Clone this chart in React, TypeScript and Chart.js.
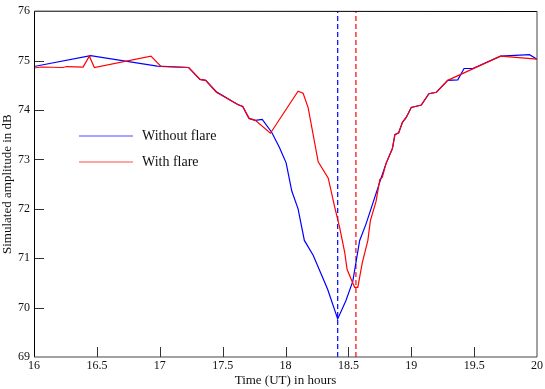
import React, { useEffect, useRef } from 'react';
import { Chart, registerables } from 'chart.js';
Chart.register(...registerables);

const FONT = '"Liberation Serif", "Times New Roman", serif';

// Time (UT, hours) and amplitude (dB) - without flare
const blueTimes = [16.0, 16.45, 16.98, 17.23, 17.32, 17.365, 17.45, 17.62, 17.66, 17.71, 17.76, 17.815, 17.89, 17.95, 18.005, 18.05, 18.10, 18.15, 18.22, 18.335, 18.415, 18.48, 18.535, 18.59, 18.64, 18.76, 18.80, 18.85, 18.87, 18.90, 18.93, 18.96, 19.00, 19.08, 19.14, 19.20, 19.29, 19.37, 19.42, 19.49, 19.71, 19.94, 20.0];
const blueValues = [74.88, 75.10, 74.89, 74.86, 74.62, 74.60, 74.37, 74.11, 74.07, 73.83, 73.79, 73.81, 73.55, 73.25, 72.93, 72.36, 72.00, 71.36, 71.06, 70.37, 69.77, 70.14, 70.53, 71.36, 71.69, 72.62, 72.92, 73.22, 73.50, 73.54, 73.75, 73.85, 74.05, 74.10, 74.33, 74.36, 74.60, 74.61, 74.84, 74.84, 75.09, 75.12, 75.03];

// with flare
const redTimes = [16.0, 16.06, 16.23, 16.26, 16.39, 16.44, 16.48, 16.93, 17.01, 17.23, 17.32, 17.365, 17.45, 17.62, 17.66, 17.71, 17.76, 17.88, 18.10, 18.14, 18.18, 18.26, 18.34, 18.39, 18.43, 18.47, 18.49, 18.535, 18.55, 18.575, 18.61, 18.655, 18.675, 18.72, 18.75, 18.77, 18.80, 18.85, 18.87, 18.90, 18.93, 18.96, 19.00, 19.08, 19.14, 19.20, 19.29, 19.71, 20.0];
const redValues = [74.85, 74.87, 74.86, 74.88, 74.87, 75.09, 74.86, 75.09, 74.88, 74.86, 74.62, 74.60, 74.36, 74.11, 74.07, 73.83, 73.79, 73.53, 74.38, 74.34, 74.05, 72.95, 72.62, 72.05, 71.63, 71.13, 70.77, 70.50, 70.41, 70.41, 70.90, 71.36, 71.76, 72.15, 72.59, 72.64, 72.92, 73.22, 73.50, 73.54, 73.75, 73.85, 74.05, 74.10, 74.33, 74.36, 74.60, 75.09, 75.03];

// Minimum markers (vertical dashed lines)
const blueMinTime = 18.415;
const redMinTime = 18.56;

const xMin = 16, xMax = 20, xStep = 0.5;
const yMin = 69, yMax = 76, yStep = 1;

const seriesLabels = ['Without flare', 'With flare'];
const xTitle = 'Time (UT) in hours';
const yTitle = 'Simulated amplitude in dB';

const BLUE = '#0000ff';
const RED = '#ff0000';

function pts(xs: number[], ys: number[]) {
  return xs.map((x, i) => ({ x, y: ys[i] }));
}

export default function App() {
  const ref = useRef<HTMLCanvasElement>(null);
  useEffect(() => {
    document.body.style.margin = '0';
    const overlay = {
      id: 'overlay',
      afterDraw(chart: any) {
        const ctx = chart.ctx;
        const a = chart.chartArea;
        const xs = chart.scales.x;
        const ys = chart.scales.y;
        ctx.save();
        // inward ticks
        ctx.strokeStyle = '#333';
        ctx.lineWidth = 1;
        ctx.beginPath();
        for (let v = xMin + xStep; v < xMax - 1e-9; v += xStep) {
          const px = Math.round(xs.getPixelForValue(v)) + 0.5;
          ctx.moveTo(px, a.bottom);
          ctx.lineTo(px, a.bottom - 10);
        }
        for (let v = yMin + yStep; v < yMax - 1e-9; v += yStep) {
          const py = Math.round(ys.getPixelForValue(v)) + 0.5;
          ctx.moveTo(a.left, py);
          ctx.lineTo(a.left + 10, py);
        }
        ctx.stroke();
        // frame
        ctx.strokeStyle = '#000';
        ctx.beginPath();
        ctx.moveTo(Math.round(a.left) + 0.5, a.bottom);
        ctx.lineTo(Math.round(a.left) + 0.5, a.top);
        ctx.lineTo(a.right, Math.round(a.top) + 0.5);
        ctx.stroke();
        ctx.strokeStyle = '#444';
        ctx.beginPath();
        ctx.moveTo(a.left, Math.round(a.bottom));
        ctx.lineTo(Math.round(a.right), Math.round(a.bottom));
        ctx.lineTo(Math.round(a.right), a.top);
        ctx.stroke();
        // legend
        const legendItems = [
          { label: seriesLabels[0], color: BLUE, y: 136 },
          { label: seriesLabels[1], color: RED, y: 162 },
        ];
        ctx.font = '14px ' + FONT;
        ctx.textBaseline = 'middle';
        ctx.textAlign = 'left';
        for (const it of legendItems) {
          ctx.strokeStyle = it.color;
          ctx.globalAlpha = 0.7;
          ctx.lineWidth = 1.2;
          ctx.beginPath();
          ctx.moveTo(79, it.y);
          ctx.lineTo(133, it.y);
          ctx.stroke();
          ctx.globalAlpha = 1;
          ctx.fillStyle = '#111';
          ctx.fillText(it.label, 142, it.y);
        }
        // axis titles
        ctx.font = '13px ' + FONT;
        ctx.fillStyle = '#111';
        ctx.textAlign = 'center';
        ctx.fillText(xTitle, (a.left + a.right) / 2, 381);
        ctx.translate(8, (a.top + a.bottom) / 2);
        ctx.rotate(-Math.PI / 2);
        ctx.fillText(yTitle, 0, 0);
        ctx.restore();
      },
    };
    const tickFont = { family: FONT, size: 12 };
    const chart = new Chart(ref.current as HTMLCanvasElement, {
      type: 'line',
      data: {
        datasets: [
          { label: seriesLabels[1], data: pts(redTimes, redValues), borderColor: RED, borderWidth: 1.2, pointRadius: 0, tension: 0, fill: false },
          { label: seriesLabels[0], data: pts(blueTimes, blueValues), borderColor: BLUE, borderWidth: 1.2, pointRadius: 0, tension: 0, fill: false },
          { label: 'blue min', data: [{ x: blueMinTime, y: yMin }, { x: blueMinTime, y: yMax }], borderColor: BLUE, borderWidth: 1.2, borderDash: [5, 3], pointRadius: 0, fill: false },
          { label: 'red min', data: [{ x: redMinTime, y: yMin }, { x: redMinTime, y: yMax }], borderColor: RED, borderWidth: 1.2, borderDash: [5, 3], pointRadius: 0, fill: false },
        ],
      },
      options: {
        responsive: false,
        animation: false,
        devicePixelRatio: 1,
        layout: { padding: { top: 5, right: 7, left: 0, bottom: 0 } },
        plugins: { legend: { display: false }, tooltip: { enabled: false } },
        scales: {
          x: {
            type: 'linear', min: xMin, max: xMax,
            ticks: { stepSize: xStep, font: tickFont, color: '#111', padding: 2, maxRotation: 0, autoSkip: false, callback: (v: any) => String(Number(v)) },
            grid: { display: false, drawTicks: false },
            border: { display: false },
            afterFit(s: any) { s.height = 32; },
          },
          y: {
            type: 'linear', min: yMin, max: yMax,
            ticks: { stepSize: yStep, font: tickFont, color: '#111', padding: 4, callback: (v: any) => String(Number(v)) },
            grid: { display: false, drawTicks: false },
            border: { display: false },
            afterFit(s: any) { s.width = 34; },
          },
        },
      } as any,
      plugins: [overlay],
    });
    return () => chart.destroy();
  }, []);
  return <canvas ref={ref} width={545} height={389} style={{ display: 'block' }} />;
}
